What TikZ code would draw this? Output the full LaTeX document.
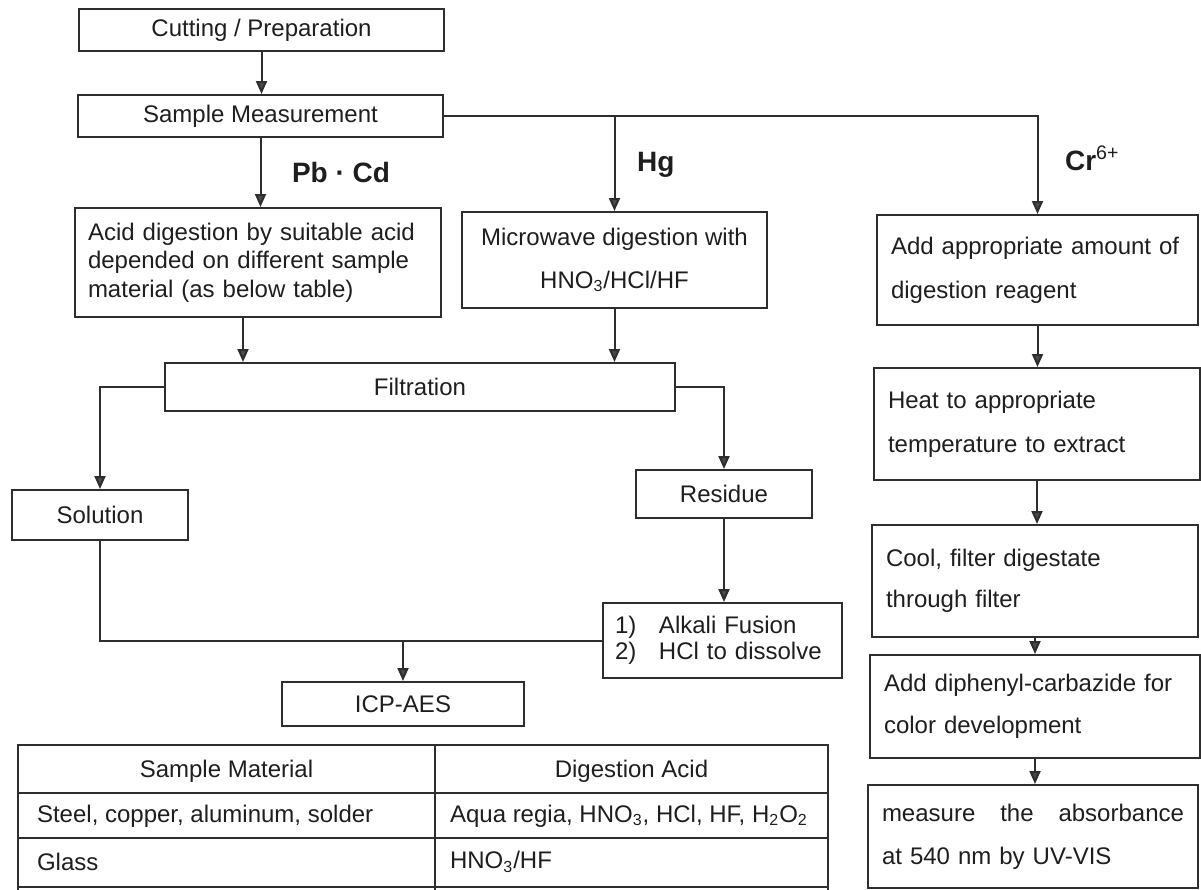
\documentclass[tikz,border=0pt]{standalone}
\usepackage{fontspec}
\setmainfont{Liberation Sans}
\usetikzlibrary{arrows.meta,calc}
\definecolor{linec}{HTML}{2E2E2E}
\definecolor{headc}{HTML}{4A4A4A}
\definecolor{textc}{HTML}{1E1E1E}

\tikzset{
  box/.style={draw=linec, line width=1pt, inner sep=0pt, align=center, text=textc, font=\fontsize{12}{14}\selectfont},
  stepbox/.style={box, align=left, inner xsep=7pt, font=\fontsize{12}{22}\selectfont},
  arr/.style={draw=linec, line width=1pt, -{Triangle[length=6.5pt,width=5.5pt,fill=headc]}},
  plain/.style={draw=linec, line width=1pt},
  lbl/.style={text=textc, font=\bfseries\fontsize{14}{16}\selectfont, anchor=base west},
  cell/.style={text=textc, font=\fontsize{12}{14}\selectfont},
}

\begin{document}
\begin{tikzpicture}[x=0.5pt, y=-0.5pt]
\useasboundingbox (0,0) rectangle (1201,890);

%preparation
\node[box, minimum width=182.5pt, minimum height=21pt] (cut) at (261.5,30) {Cutting / Preparation};
\node[box, minimum width=182.5pt, minimum height=21pt] (meas) at (260.5,116) {Sample Measurement};

%the three branches
\node[box, align=left, text width=170pt, inner xsep=6.5pt, minimum height=54.5pt, font=\fontsize{12}{14.25}\selectfont] (acid) at (258,262.5) {Acid digestion by suitable acid\\depended on different sample\\material (as below table)};
\node[box, minimum width=152.5pt, minimum height=48pt, font=\fontsize{12}{21.5}\selectfont] (micro) at (614.5,260) {Microwave digestion with\\HNO\textsubscript{3}/HCl/HF};
\node[stepbox, text width=146.5pt, minimum height=55pt] (reag) at (1037.5,270) {Add appropriate amount of\\digestion reagent};

%filtration and after
\node[box, minimum width=255pt, minimum height=24pt] (filt) at (420,387) {Filtration};
\node[box, minimum width=88pt, minimum height=25pt] (sol) at (100,515) {Solution};
\node[box, minimum width=88pt, minimum height=24pt] (res) at (724,494) {Residue};
\node[box, align=left, text width=107.5pt, inner xsep=6pt, minimum height=37.5pt, font=\fontsize{12}{13}\selectfont] (alk) at (722.5,640.5) {\makebox[22pt][l]{1)}Alkali Fusion\\\makebox[22pt][l]{2)}HCl to dissolve};
\node[box, minimum width=121pt, minimum height=22pt] (icp) at (403,704) {ICP-AES};

%Cr(VI) column
\node[stepbox, text width=149pt, minimum height=56pt] (heat) at (1037,424) {Heat to appropriate\\temperature to extract};
\node[stepbox, text width=149pt, minimum height=56pt, font=\fontsize{12}{20.5}\selectfont] (cool) at (1035,581) {Cool, filter digestate\\through filter};
\node[stepbox, text width=151pt, minimum height=51.5pt, font=\fontsize{12}{21}\selectfont] (diph) at (1035,706.5) {Add diphenyl-carbazide for\\color development};
\node[stepbox, text width=151pt, minimum height=51.5pt, font=\fontsize{12}{21.5}\selectfont] (absb) at (1033,836.5) {measure\hfill the\hfill absorbance\\at 540 nm by UV-VIS};

%connectors
\draw[arr] (cut.south) -- (cut.south |- meas.north);
\draw[arr] (meas.south) -- (meas.south |- acid.north);
\draw[arr] (meas.east) -| (reag.north);
\draw[arr] (meas.east -| micro.north) -- (micro.north);
\node[lbl] (pbcd) at (285,182) {Pb · Cd};
\node[lbl] (hg) at (630,171) {Hg};
\node[lbl] (cr) at (1058,170) {Cr\textsuperscript{\mdseries 6+}};

\coordinate (acidout) at ($(acid.south)+(-15,0)$);
\draw[arr] (acidout) -- (acidout |- filt.north);
\draw[arr] (micro.south) -- (micro.south |- filt.north);
\draw[arr] (filt.west) -| (sol.north);
\draw[arr] (filt.east) -| (res.north);
\draw[arr] (res.south) -- (res.south |- alk.north);
\draw[plain] (sol.south) |- (alk.west);
\coordinate (join) at (icp.north |- alk.west);
\draw[arr] (join) -- (icp.north);

\foreach \a/\b in {reag/heat, heat/cool, cool/diph, diph/absb}
  \draw[arr] (\a.south) -- (\a.south |- \b.north);

%table of acids
\draw[plain] (18,890) -- (18,745) -- (828,745) -- (828,890);
\draw[plain] (435,745) -- (435,890);
\draw[plain] (18,793) -- (828,793);% header
\draw[plain] (18,838) -- (828,838);
\draw[plain] (18,887) -- (828,887);
\node[cell] (hdmat) at (226.5,771) {Sample Material};
\node[cell] (hdacid) at (631.5,771) {Digestion Acid};
\node[cell, anchor=west] (mat1) at (30,816) {Steel, copper, aluminum, solder};
\node[cell, anchor=west] (acid1) at (443,816) {Aqua regia, HNO\textsubscript{3}, HCl, HF, H\textsubscript{2}O\textsubscript{2}};
\node[cell, anchor=west] (mat2) at (30,862) {Glass};
\node[cell, anchor=west] (acid2) at (443,862) {HNO\textsubscript{3}/HF};

\end{tikzpicture}
\end{document}
